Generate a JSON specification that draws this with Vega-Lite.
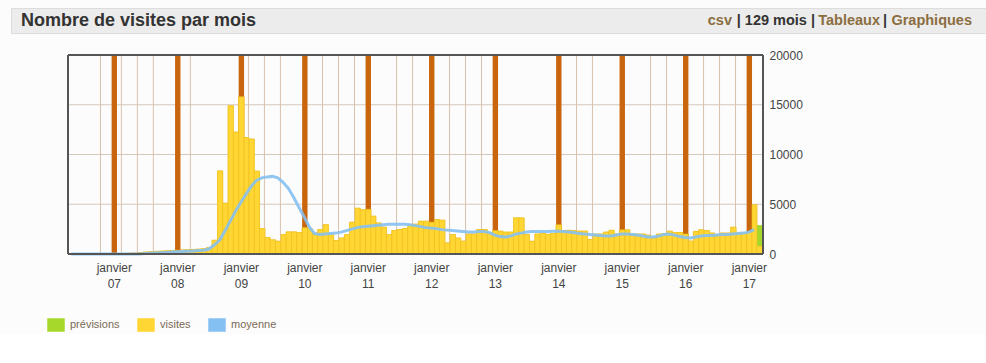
{
  "$schema": "https://vega.github.io/schema/vega-lite/v6.json",
  "background": "#FCFCFC",
  "padding": {"left": 10, "top": 7, "right": 0, "bottom": 0},
  "config": {"font": "Liberation Sans", "view": {"stroke": null}, "bar": {"binSpacing": 0}, "axis": {"grid": false}},
  "bounds": "flush",
  "spacing": 22,
  "datasets": {
    "visites": [
      {"mois": "2006-05-01", "visites": 0, "moyenne": 0},
      {"mois": "2006-06-01", "visites": 0, "moyenne": 0},
      {"mois": "2006-07-01", "visites": 0, "moyenne": 0},
      {"mois": "2006-08-01", "visites": 0, "moyenne": 0},
      {"mois": "2006-09-01", "visites": 10, "moyenne": 0},
      {"mois": "2006-10-01", "visites": 15, "moyenne": 0},
      {"mois": "2006-11-01", "visites": 20, "moyenne": 0},
      {"mois": "2006-12-01", "visites": 25, "moyenne": 0},
      {"mois": "2007-01-01", "visites": 40, "moyenne": 0},
      {"mois": "2007-02-01", "visites": 50, "moyenne": 0},
      {"mois": "2007-03-01", "visites": 60, "moyenne": 0},
      {"mois": "2007-04-01", "visites": 80, "moyenne": 0},
      {"mois": "2007-05-01", "visites": 100, "moyenne": 0},
      {"mois": "2007-06-01", "visites": 150, "moyenne": 0},
      {"mois": "2007-07-01", "visites": 200, "moyenne": 40},
      {"mois": "2007-08-01", "visites": 230, "moyenne": 70},
      {"mois": "2007-09-01", "visites": 260, "moyenne": 100},
      {"mois": "2007-10-01", "visites": 290, "moyenne": 130},
      {"mois": "2007-11-01", "visites": 320, "moyenne": 160},
      {"mois": "2007-12-01", "visites": 340, "moyenne": 190},
      {"mois": "2008-01-01", "visites": 380, "moyenne": 220},
      {"mois": "2008-02-01", "visites": 410, "moyenne": 250},
      {"mois": "2008-03-01", "visites": 430, "moyenne": 280},
      {"mois": "2008-04-01", "visites": 460, "moyenne": 310},
      {"mois": "2008-05-01", "visites": 490, "moyenne": 340},
      {"mois": "2008-06-01", "visites": 540, "moyenne": 380},
      {"mois": "2008-07-01", "visites": 650, "moyenne": 500},
      {"mois": "2008-08-01", "visites": 1380, "moyenne": 900},
      {"mois": "2008-09-01", "visites": 8350, "moyenne": 1400},
      {"mois": "2008-10-01", "visites": 5100, "moyenne": 2300},
      {"mois": "2008-11-01", "visites": 14900, "moyenne": 3300},
      {"mois": "2008-12-01", "visites": 12250, "moyenne": 4300},
      {"mois": "2009-01-01", "visites": 15800, "moyenne": 5200},
      {"mois": "2009-02-01", "visites": 11700, "moyenne": 6000},
      {"mois": "2009-03-01", "visites": 11550, "moyenne": 6800},
      {"mois": "2009-04-01", "visites": 8330, "moyenne": 7400},
      {"mois": "2009-05-01", "visites": 2550, "moyenne": 7650},
      {"mois": "2009-06-01", "visites": 1650, "moyenne": 7750},
      {"mois": "2009-07-01", "visites": 1420, "moyenne": 7800},
      {"mois": "2009-08-01", "visites": 1280, "moyenne": 7650},
      {"mois": "2009-09-01", "visites": 1950, "moyenne": 7200},
      {"mois": "2009-10-01", "visites": 2220, "moyenne": 6600},
      {"mois": "2009-11-01", "visites": 2220, "moyenne": 5700},
      {"mois": "2009-12-01", "visites": 2150, "moyenne": 4700},
      {"mois": "2010-01-01", "visites": 2650, "moyenne": 3700},
      {"mois": "2010-02-01", "visites": 2520, "moyenne": 2700},
      {"mois": "2010-03-01", "visites": 2100, "moyenne": 2050},
      {"mois": "2010-04-01", "visites": 2460, "moyenne": 1950},
      {"mois": "2010-05-01", "visites": 2940, "moyenne": 2000},
      {"mois": "2010-06-01", "visites": 1950, "moyenne": 2050},
      {"mois": "2010-07-01", "visites": 1350, "moyenne": 2100},
      {"mois": "2010-08-01", "visites": 1610, "moyenne": 2200},
      {"mois": "2010-09-01", "visites": 1950, "moyenne": 2350},
      {"mois": "2010-10-01", "visites": 3200, "moyenne": 2500},
      {"mois": "2010-11-01", "visites": 4600, "moyenne": 2650},
      {"mois": "2010-12-01", "visites": 4450, "moyenne": 2750},
      {"mois": "2011-01-01", "visites": 4500, "moyenne": 2800},
      {"mois": "2011-02-01", "visites": 3800, "moyenne": 2850},
      {"mois": "2011-03-01", "visites": 3120, "moyenne": 2900},
      {"mois": "2011-04-01", "visites": 2690, "moyenne": 2950},
      {"mois": "2011-05-01", "visites": 1950, "moyenne": 3000},
      {"mois": "2011-06-01", "visites": 2360, "moyenne": 3000},
      {"mois": "2011-07-01", "visites": 2460, "moyenne": 3000},
      {"mois": "2011-08-01", "visites": 2560, "moyenne": 2980},
      {"mois": "2011-09-01", "visites": 2940, "moyenne": 2950},
      {"mois": "2011-10-01", "visites": 3000, "moyenne": 2850},
      {"mois": "2011-11-01", "visites": 3290, "moyenne": 2750},
      {"mois": "2011-12-01", "visites": 3290, "moyenne": 2650},
      {"mois": "2012-01-01", "visites": 3200, "moyenne": 2600},
      {"mois": "2012-02-01", "visites": 3460, "moyenne": 2550},
      {"mois": "2012-03-01", "visites": 3400, "moyenne": 2450},
      {"mois": "2012-04-01", "visites": 1110, "moyenne": 2400},
      {"mois": "2012-05-01", "visites": 1950, "moyenne": 2350},
      {"mois": "2012-06-01", "visites": 1610, "moyenne": 2300},
      {"mois": "2012-07-01", "visites": 1300, "moyenne": 2250},
      {"mois": "2012-08-01", "visites": 2010, "moyenne": 2200},
      {"mois": "2012-09-01", "visites": 2010, "moyenne": 2200},
      {"mois": "2012-10-01", "visites": 2460, "moyenne": 2250},
      {"mois": "2012-11-01", "visites": 2460, "moyenne": 2250},
      {"mois": "2012-12-01", "visites": 2110, "moyenne": 2150},
      {"mois": "2013-01-01", "visites": 2360, "moyenne": 1900},
      {"mois": "2013-02-01", "visites": 2290, "moyenne": 1750},
      {"mois": "2013-03-01", "visites": 2200, "moyenne": 1700},
      {"mois": "2013-04-01", "visites": 2200, "moyenne": 1800},
      {"mois": "2013-05-01", "visites": 3630, "moyenne": 2000},
      {"mois": "2013-06-01", "visites": 3630, "moyenne": 2100},
      {"mois": "2013-07-01", "visites": 1950, "moyenne": 2200},
      {"mois": "2013-08-01", "visites": 1280, "moyenne": 2250},
      {"mois": "2013-09-01", "visites": 2010, "moyenne": 2250},
      {"mois": "2013-10-01", "visites": 2080, "moyenne": 2250},
      {"mois": "2013-11-01", "visites": 1980, "moyenne": 2250},
      {"mois": "2013-12-01", "visites": 2050, "moyenne": 2280},
      {"mois": "2014-01-01", "visites": 2940, "moyenne": 2290},
      {"mois": "2014-02-01", "visites": 2360, "moyenne": 2250},
      {"mois": "2014-03-01", "visites": 2380, "moyenne": 2200},
      {"mois": "2014-04-01", "visites": 2340, "moyenne": 2150},
      {"mois": "2014-05-01", "visites": 2300, "moyenne": 2050},
      {"mois": "2014-06-01", "visites": 2300, "moyenne": 2000},
      {"mois": "2014-07-01", "visites": 1450, "moyenne": 1950},
      {"mois": "2014-08-01", "visites": 2010, "moyenne": 1900},
      {"mois": "2014-09-01", "visites": 2010, "moyenne": 1850},
      {"mois": "2014-10-01", "visites": 2200, "moyenne": 1800},
      {"mois": "2014-11-01", "visites": 2380, "moyenne": 1800},
      {"mois": "2014-12-01", "visites": 2010, "moyenne": 1900},
      {"mois": "2015-01-01", "visites": 2430, "moyenne": 2000},
      {"mois": "2015-02-01", "visites": 2430, "moyenne": 2000},
      {"mois": "2015-03-01", "visites": 2010, "moyenne": 1950},
      {"mois": "2015-04-01", "visites": 2010, "moyenne": 1900},
      {"mois": "2015-05-01", "visites": 2010, "moyenne": 1800},
      {"mois": "2015-06-01", "visites": 1900, "moyenne": 1700},
      {"mois": "2015-07-01", "visites": 1610, "moyenne": 1700},
      {"mois": "2015-08-01", "visites": 2010, "moyenne": 1800},
      {"mois": "2015-09-01", "visites": 2050, "moyenne": 1950},
      {"mois": "2015-10-01", "visites": 2290, "moyenne": 2000},
      {"mois": "2015-11-01", "visites": 2150, "moyenne": 1900},
      {"mois": "2015-12-01", "visites": 2150, "moyenne": 1750},
      {"mois": "2016-01-01", "visites": 2010, "moyenne": 1650},
      {"mois": "2016-02-01", "visites": 1300, "moyenne": 1600},
      {"mois": "2016-03-01", "visites": 2270, "moyenne": 1700},
      {"mois": "2016-04-01", "visites": 2430, "moyenne": 1800},
      {"mois": "2016-05-01", "visites": 2350, "moyenne": 1850},
      {"mois": "2016-06-01", "visites": 2110, "moyenne": 1850},
      {"mois": "2016-07-01", "visites": 1950, "moyenne": 1900},
      {"mois": "2016-08-01", "visites": 2110, "moyenne": 1950},
      {"mois": "2016-09-01", "visites": 2110, "moyenne": 1950},
      {"mois": "2016-10-01", "visites": 2690, "moyenne": 2000},
      {"mois": "2016-11-01", "visites": 2110, "moyenne": 2050},
      {"mois": "2016-12-01", "visites": 2110, "moyenne": 2100},
      {"mois": "2017-01-01", "visites": 2270, "moyenne": 2200},
      {"mois": "2017-02-01", "visites": 4950, "moyenne": 2450},
      {"mois": "2017-03-01", "visites": 780, "moyenne": null, "prevision": 2900}
    ],
    "janviers": [
      {"mois": "2007-01-01"}, {"mois": "2008-01-01"}, {"mois": "2009-01-01"},
      {"mois": "2010-01-01"}, {"mois": "2011-01-01"}, {"mois": "2012-01-01"},
      {"mois": "2013-01-01"}, {"mois": "2014-01-01"}, {"mois": "2015-01-01"},
      {"mois": "2016-01-01"}, {"mois": "2017-01-01"}
    ],
    "reperes": [
      {"date": "2006-11-01"}, {"date": "2007-03-01"}, {"date": "2007-06-01"},
      {"date": "2007-09-01"}, {"date": "2008-04-01"}, {"date": "2009-03-01"},
      {"date": "2009-06-01"}, {"date": "2009-09-01"}, {"date": "2010-05-01"},
      {"date": "2010-08-01"}, {"date": "2010-11-01"}, {"date": "2011-07-01"},
      {"date": "2011-10-01"}, {"date": "2012-05-01"}, {"date": "2012-08-01"},
      {"date": "2012-11-01"}, {"date": "2014-05-01"}, {"date": "2014-08-01"},
      {"date": "2015-07-01"}, {"date": "2015-10-01"}, {"date": "2016-05-01"},
      {"date": "2016-08-01"}, {"date": "2016-11-01"}
    ],
    "grille": [{"valeur": 5000}, {"valeur": 10000}, {"valeur": 15000}]
  },
  "vconcat": [
    {
      "width": 976,
      "height": 25,
      "view": {"fill": "#ECECEC", "stroke": "#DDDDDD"},
      "data": {"values": [{}]},
      "layer": [
        {
          "mark": {"type": "text", "align": "left", "fontSize": 18, "fontWeight": "bold", "color": "#333333"},
          "encoding": {
            "x": {"datum": 0, "type": "quantitative", "scale": {"domain": [0, 1], "range": [10, 961]}, "axis": null},
            "text": {"value": "Nombre de visites par mois"}
          }
        },
        {
          "mark": {"type": "text", "align": "right", "fontSize": 14.5, "fontWeight": "bold", "color": "#8B6E40", "dx": -240},
          "encoding": {"x": {"datum": 1, "type": "quantitative", "axis": null}, "text": {"value": "csv"}}
        },
        {
          "mark": {"type": "text", "align": "right", "fontSize": 14.5, "fontWeight": "bold", "color": "#333333", "dx": -157},
          "encoding": {"x": {"datum": 1, "type": "quantitative", "axis": null}, "text": {"value": "| 129 mois |"}}
        },
        {
          "mark": {"type": "text", "align": "right", "fontSize": 14.5, "fontWeight": "bold", "color": "#8B6E40", "dx": -92},
          "encoding": {"x": {"datum": 1, "type": "quantitative", "axis": null}, "text": {"value": "Tableaux"}}
        },
        {
          "mark": {"type": "text", "align": "right", "fontSize": 14.5, "fontWeight": "bold", "color": "#333333", "dx": -85},
          "encoding": {"x": {"datum": 1, "type": "quantitative", "axis": null}, "text": {"value": "|"}}
        },
        {
          "mark": {"type": "text", "align": "right", "fontSize": 14.5, "fontWeight": "bold", "color": "#8B6E40"},
          "encoding": {"x": {"datum": 1, "type": "quantitative", "axis": null}, "text": {"value": "Graphiques"}}
        }
      ]
    },
    {
      "width": 752,
      "height": 199,
      "layer": [
        {
          "data": {"name": "visites"},
          "mark": {"type": "bar", "stroke": "#EFC01C", "strokeWidth": 0.6},
          "encoding": {
            "x": {"field": "mois", "timeUnit": "utcyearmonth", "type": "temporal", "title": null,
                  "scale": {"type": "utc", "domain": [{"year": 2006, "month": 4, "date": 28, "utc": true}, {"year": 2017, "month": 4, "date": 8, "utc": true}], "range": [57, 752]},
                  "axis": {"values": [
                    {"year": 2007, "month": 1, "date": 16, "hours": 12, "utc": true},
                    {"year": 2008, "month": 1, "date": 16, "hours": 12, "utc": true},
                    {"year": 2009, "month": 1, "date": 16, "hours": 12, "utc": true},
                    {"year": 2010, "month": 1, "date": 16, "hours": 12, "utc": true},
                    {"year": 2011, "month": 1, "date": 16, "hours": 12, "utc": true},
                    {"year": 2012, "month": 1, "date": 16, "hours": 12, "utc": true},
                    {"year": 2013, "month": 1, "date": 16, "hours": 12, "utc": true},
                    {"year": 2014, "month": 1, "date": 16, "hours": 12, "utc": true},
                    {"year": 2015, "month": 1, "date": 16, "hours": 12, "utc": true},
                    {"year": 2016, "month": 1, "date": 16, "hours": 12, "utc": true},
                    {"year": 2017, "month": 1, "date": 16, "hours": 12, "utc": true}],
                    "labelExpr": "['janvier', utcFormat(datum.value, '%y')]",
                    "ticks": false, "domain": false, "grid": false, "labelPadding": 8,
                    "labelFontSize": 12, "labelColor": "#444444", "labelLineHeight": 16,
                    "labelFlush": false, "labelOverlap": false, "title": null, "zindex": 2}},
            "y": {"field": "visites", "type": "quantitative", "title": null,
                  "scale": {"domain": [0, 20000], "nice": false},
                  "axis": {"orient": "right", "values": [0, 5000, 10000, 15000, 20000], "format": "d", "ticks": false, "domain": false, "grid": false,
                           "labelPadding": 6, "labelFontSize": 12, "labelColor": "#444444", "title": null, "labelFlush": false, "zindex": 2}},
            "color": {"datum": "visites", "type": "nominal",
                      "scale": {"domain": ["prévisions", "visites", "moyenne"], "range": ["#A6D82C", "#FFD633", "#85C0F2"]},
                      "legend": {"orient": "none", "legendX": 36, "legendY": 308, "direction": "horizontal", "title": null,
                                 "symbolType": "M-1,-0.75H1V0.75H-1Z", "symbolSize": 256, "labelFontSize": 11,
                                 "labelColor": "#7A6A56", "labelOffset": 5, "columnPadding": 15, "padding": 0,
                                 "encode": {"symbols": {"update": {"fill": {"scale": "color", "field": "value"}, "stroke": {"value": "#C8C8C8"}, "strokeWidth": {"value": 1}, "opacity": {"value": 1}}}}}}
          }
        },
        {
          "data": {"name": "grille"},
          "mark": {"type": "rule", "color": "#D6C8BB", "strokeWidth": 1},
          "encoding": {
            "y": {"field": "valeur", "type": "quantitative", "title": null},
            "x": {"datum": {"year": 2006, "month": 4, "date": 28, "utc": true}, "type": "temporal", "title": null},
            "x2": {"datum": {"year": 2017, "month": 4, "date": 8, "utc": true}}
          }
        },
        {
          "data": {"name": "reperes"},
          "mark": {"type": "rule", "color": "#D8C2AD", "strokeWidth": 1},
          "encoding": {"x": {"field": "date", "type": "temporal", "title": null}}
        },
        {
          "data": {"name": "janviers"},
          "mark": {"type": "bar", "color": "#C8650D"},
          "encoding": {
            "x": {"field": "mois", "timeUnit": "utcyearmonth", "type": "temporal", "title": null},
            "y": {"datum": 20000, "type": "quantitative", "title": null}
          }
        },
        {
          "data": {"name": "visites"},
          "mark": {"type": "bar"},
          "encoding": {
            "x": {"field": "mois", "timeUnit": "utcyearmonth", "type": "temporal", "title": null},
            "y": {"field": "prevision", "type": "quantitative", "title": null},
            "color": {"datum": "prévisions", "type": "nominal"}
          }
        },
        {
          "data": {"name": "visites"},
          "mark": {"type": "bar", "stroke": "#EFC01C", "strokeWidth": 0.6},
          "encoding": {
            "x": {"field": "mois", "timeUnit": "utcyearmonth", "type": "temporal", "title": null},
            "y": {"field": "visites", "type": "quantitative", "title": null},
            "color": {"datum": "visites", "type": "nominal"}
          }
        },
        {
          "data": {"name": "visites"},
          "mark": {"type": "line", "strokeWidth": 3, "opacity": 0.9},
          "encoding": {
            "x": {"field": "mois", "timeUnit": "utcyearmonth", "type": "temporal", "bandPosition": 0.5, "title": null},
            "y": {"field": "moyenne", "type": "quantitative", "title": null},
            "color": {"datum": "moyenne", "type": "nominal"}
          }
        },
        {
          "data": {"values": [{}]},
          "mark": {"type": "rule", "color": "#555555", "strokeWidth": 2},
          "encoding": {"x": {"datum": {"year": 2006, "month": 4, "date": 28, "utc": true}, "type": "temporal", "title": null}}
        },
        {
          "data": {"values": [{}]},
          "mark": {"type": "rule", "color": "#555555", "strokeWidth": 2},
          "encoding": {"x": {"datum": {"year": 2017, "month": 4, "date": 8, "utc": true}, "type": "temporal", "title": null}}
        },
        {
          "data": {"values": [{}]},
          "mark": {"type": "rule", "color": "#555555", "strokeWidth": 2},
          "encoding": {
            "y": {"datum": 20000, "type": "quantitative", "title": null},
            "x": {"datum": {"year": 2006, "month": 4, "date": 28, "utc": true}, "type": "temporal", "title": null},
            "x2": {"datum": {"year": 2017, "month": 4, "date": 8, "utc": true}}
          }
        },
        {
          "data": {"values": [{}]},
          "mark": {"type": "rule", "color": "#555555", "strokeWidth": 2},
          "encoding": {
            "y": {"datum": 0, "type": "quantitative", "title": null},
            "x": {"datum": {"year": 2006, "month": 4, "date": 28, "utc": true}, "type": "temporal", "title": null},
            "x2": {"datum": {"year": 2017, "month": 4, "date": 8, "utc": true}}
          }
        }
      ]
    }
  ]
}
